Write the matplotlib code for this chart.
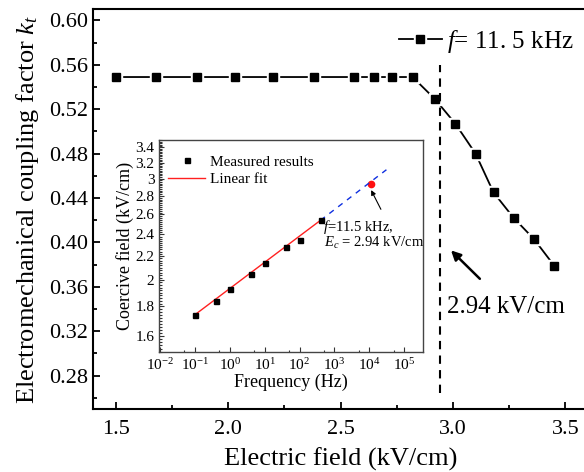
import matplotlib
matplotlib.use("Agg")
import matplotlib.pyplot as plt
from matplotlib.ticker import MultipleLocator, FixedLocator, FixedFormatter, NullFormatter
from matplotlib.legend_handler import HandlerTuple

plt.rcParams['font.family'] = 'Liberation Serif'
plt.rcParams['mathtext.fontset'] = 'custom'
plt.rcParams['mathtext.rm'] = 'Liberation Serif'
plt.rcParams['mathtext.it'] = 'Liberation Serif:italic'

# main curve: kt vs electric field, f = 11.5 kHz
field = [1.50, 1.68, 1.86, 2.03, 2.20, 2.38, 2.56, 2.65, 2.73, 2.82,
         2.92, 3.01, 3.10, 3.18, 3.27, 3.36, 3.45]
kt = [0.549, 0.549, 0.549, 0.549, 0.549, 0.549, 0.549, 0.549, 0.549, 0.549,
      0.529, 0.507, 0.480, 0.445, 0.422, 0.403, 0.379]
ec_main = 2.94

# inset: coercive field vs frequency
freq = [0.1, 0.4, 1, 4, 10, 40, 100, 400]
coercive = [1.74, 1.84, 1.93, 2.05, 2.14, 2.28, 2.35, 2.54]
fit_x = [0.1, 400]
fit_y = [1.74, 2.54]
ext_x = [400, 3.1e4]
ext_y = [2.54, 3.11]
f_point = [11500]
ec_point = [2.94]

inset_yticks = [1.6, 1.8, 2.0, 2.2, 2.4, 2.6, 2.8, 3.0, 3.2, 3.4]

fig = plt.figure(figsize=(5.84, 4.72), dpi=100)
ax = fig.add_axes([0.1598, 0.1335, 0.847, 0.8468])

ln, = ax.plot(field, kt, color='black', lw=1.3, zorder=2)
wm, = ax.plot(field, kt, ls='none', marker='s', ms=8.6, mfc='white', mec='white', zorder=3)
bm, = ax.plot(field, kt, ls='none', marker='s', ms=6, mfc='black', mec='black', zorder=5)
ax.plot([ec_main, ec_main], [0.264, 0.56], color='black', lw=1.5, ls=(0, (4, 3)), zorder=4)

ax.set_xlim(1.4, 3.6)
ax.set_ylim(0.25, 0.61)
ax.xaxis.set_major_locator(MultipleLocator(0.5))
ax.xaxis.set_minor_locator(MultipleLocator(0.25))
ax.yaxis.set_major_locator(MultipleLocator(0.04))
ax.yaxis.set_minor_locator(MultipleLocator(0.02))
ax.xaxis.set_major_formatter(plt.FuncFormatter(lambda v, p: '%.1f' % v))
ax.yaxis.set_major_formatter(plt.FuncFormatter(lambda v, p: '%.2f' % v))
ax.tick_params(which='both', direction='in', width=1.3, labelsize=16, top=False, right=False)
ax.tick_params(which='major', length=5)
ax.tick_params(which='minor', length=3)
ax.tick_params(axis='x', pad=8)
for s in ax.spines.values():
    s.set_linewidth(1.5)

ax.set_xlabel('Electric field (kV/cm)', fontsize=19, labelpad=6)
ax.set_ylabel('Electromechanical coupling factor $k_t$', fontsize=19, labelpad=6)

fig.legend([(ln, wm, bm)], ['$f$= 11. 5 kHz'], handler_map={tuple: HandlerTuple(ndivide=1)},
           loc='center right', bbox_to_anchor=(1.003, 0.913), frameon=False, fontsize=18,
           handlelength=1.7, handletextpad=0.2, borderpad=0)

ax.annotate('', xy=(2.982, 0.3946), xytext=(3.128, 0.3655),
            arrowprops=dict(arrowstyle='-|>', color='black', lw=1.8, mutation_scale=14))
ax.text(2.975, 0.3422, '2.94 kV/cm', fontsize=18, ha='left', va='center')

# inset
ins = fig.add_axes([0.2728, 0.2546, 0.4515, 0.4483])
ins.plot(fit_x, fit_y, color='#ff2020', lw=1.0, zorder=2, label='Linear fit')
ins.plot(ext_x, ext_y, color='#1030e0', lw=1.0, ls=(0, (4, 4)), zorder=3)
ins.plot(freq, coercive, ls='none', marker='s', ms=3.6, color='black', zorder=4,
         label='Measured results')
ins.plot(f_point, ec_point, ls='none', marker='o', ms=4.5, mfc='#ff1010', mec='#ff1010', zorder=2.5)
ins.set_xscale('log')
ins.set_yscale('log')
ins.set_xlim(10 ** -2.02, 10 ** 5.54)
ins.set_ylim(1.5, 3.5)
ins.xaxis.set_major_locator(FixedLocator([10.0 ** k for k in range(-2, 6)]))
ins.xaxis.set_minor_locator(FixedLocator([5 * 10.0 ** k for k in range(-3, 6)]))
ins.xaxis.set_minor_formatter(NullFormatter())
ins.yaxis.set_major_locator(FixedLocator(inset_yticks))
ins.yaxis.set_major_formatter(FixedFormatter(['%g' % v for v in inset_yticks]))
ins.yaxis.set_minor_locator(FixedLocator([1.5 + 0.02 * i for i in range(101)]))
ins.yaxis.set_minor_formatter(NullFormatter())
ins.tick_params(which='both', direction='in', labelsize=11, top=False, right=False,
                width=0.8, color='#333333')
ins.tick_params(which='major', length=3.5)
ins.tick_params(which='minor', length=1.8)
for s in ins.spines.values():
    s.set_linewidth(1.0)
    s.set_color('#444444')
ins.set_xlabel('Frequency (Hz)', fontsize=13, labelpad=1)
ins.set_ylabel('Coercive field (kV/cm)', fontsize=13, labelpad=1)

h, l = ins.get_legend_handles_labels()
ins.legend(h[::-1], l[::-1], loc='upper left', bbox_to_anchor=(0.034, 0.93), frameon=False,
           fontsize=11, handlelength=2.4, handletextpad=0.3, labelspacing=0.25,
           borderpad=0, borderaxespad=0, numpoints=1)

ins.annotate('', xy=(1.04e4, 2.895), xytext=(2.34e4, 2.628),
             arrowprops=dict(arrowstyle='-|>', color='black', lw=0.8, mutation_scale=7))
ins.text(0.62, 0.572, '$f$=11.5 kHz,', transform=ins.transAxes, fontsize=10.5, va='baseline')
ins.text(0.625, 0.496, '$E_c$ = 2.94 kV/cm', transform=ins.transAxes, fontsize=10.5, va='baseline')

fig.savefig('out.png', dpi=100)
